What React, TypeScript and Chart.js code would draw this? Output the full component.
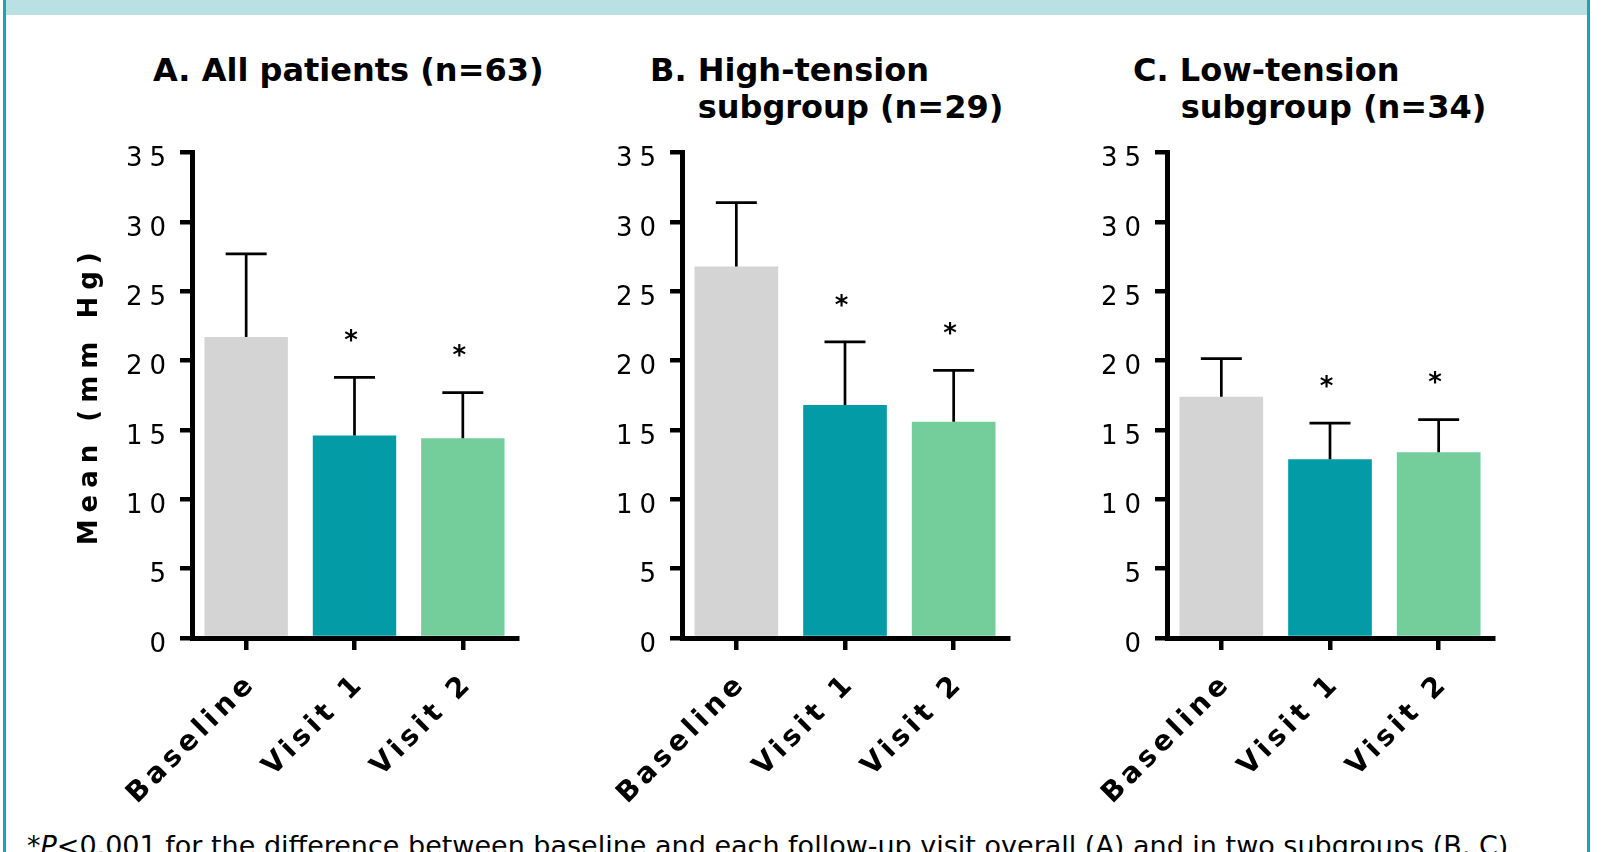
import React, { useEffect, useRef } from 'react';
import { Chart, registerables } from 'chart.js';

Chart.register(...registerables);

// ---- data ----
const categories = ['Baseline', 'Visit 1', 'Visit 2'];
const yMin = 0;
const yMax = 35;
const yStep = 5;
const allMeans = [21.7, 14.6, 14.4];
const allSD = [6.0, 4.2, 3.3];
const highMeans = [26.8, 16.8, 15.6];
const highSD = [4.6, 4.55, 3.7];
const lowMeans = [17.4, 12.9, 13.4];
const lowSD = [2.75, 2.6, 2.35];
const significant = [false, true, true];
const barColors = ['#d4d4d4', '#039ba6', '#73ce9b'];
const yAxisTitle = 'Mean (mm Hg)';
const titleA = ['A. All patients (n=63)'];
const titleB = ['B. High-tension', 'subgroup (n=29)'];
const titleC = ['C. Low-tension', 'subgroup (n=34)'];

const FONT = '"DejaVu Sans", Verdana, sans-serif';

const spacingPlugin = {
  id: 'letterSpacing',
  beforeDraw(chart: any) {
    chart.ctx.letterSpacing = '7px';
    const sx = chart.scales.x;
    if (sx && !sx.__wrapped) {
      const orig = sx.drawLabels;
      sx.drawLabels = function (ca: any) {
        const c = this.ctx;
        const prev = c.letterSpacing;
        c.letterSpacing = '4.5px';
        orig.call(this, ca);
        c.letterSpacing = prev;
      };
      sx.__wrapped = true;
    }
  },
};

const errorBarPlugin = {
  id: 'errorBars',
  afterDatasetsDraw(chart: any, _args: any, opts: any) {
    const ctx = chart.ctx;
    const meta = chart.getDatasetMeta(0);
    const ds = chart.data.datasets[0];
    const yScale = chart.scales.y;
    ctx.save();
    ctx.strokeStyle = '#000';
    ctx.fillStyle = '#000';
    ctx.lineWidth = 2.7;
    meta.data.forEach((bar: any, i: number) => {
      const v = ds.data[i] as number;
      const e = opts.errors[i] as number;
      const top = yScale.getPixelForValue(v + e);
      const x = bar.x;
      ctx.beginPath();
      ctx.moveTo(x, bar.y);
      ctx.lineTo(x, top);
      ctx.moveTo(x - 20.5, top);
      ctx.lineTo(x + 20.5, top);
      ctx.stroke();
      if (opts.sig[i]) {
        ctx.font = 'bold 26px ' + FONT;
        ctx.textAlign = 'center';
        ctx.textBaseline = 'alphabetic';
        ctx.fillText('*', x, top - 28.4);
      }
    });
    ctx.restore();
  },
};

type PanelProps = {
  means: number[];
  errors: number[];
  areaLeft: number;
  areaRight: number;
  showYTitle: boolean;
};

const Y_SCALE_W = 120;
const RIGHT_PAD = 40;
const CANVAS_TOP = 120;
const CANVAS_H = 700;

function Panel({ means, errors, areaLeft, areaRight, showYTitle }: PanelProps) {
  const ref = useRef<HTMLCanvasElement | null>(null);
  const canvasLeft = areaLeft - Y_SCALE_W;
  const canvasW = Y_SCALE_W + (areaRight - areaLeft) + RIGHT_PAD;

  useEffect(() => {
    if (!ref.current) return;
    const gridOpts = {
      display: true,
      drawOnChartArea: false,
      drawTicks: true,
      tickLength: 12,
      tickWidth: 4.5,
      lineWidth: 4.5,
      color: '#000',
      tickColor: '#000',
    };
    const borderOpts = { display: true, color: '#000', width: 5, z: 1 };
    const chart = new Chart(ref.current, {
      type: 'bar',
      data: {
        labels: categories,
        datasets: [
          {
            data: means,
            backgroundColor: barColors,
            borderWidth: 0,
            categoryPercentage: 1,
            barPercentage: 0.77,
          },
        ],
      },
      options: {
        animation: false,
        responsive: false,
        maintainAspectRatio: false,
        events: [],
        layout: { padding: { top: 152.7 - CANVAS_TOP, bottom: 10, left: 0, right: RIGHT_PAD } },
        plugins: {
          legend: { display: false },
          tooltip: { enabled: false },
          title: { display: false },
          errorBars: { errors, sig: significant },
        } as any,
        scales: {
          x: {
            offset: true,
            grid: { ...gridOpts, offset: false },
            border: borderOpts,
            ticks: {
              color: '#000',
              font: { family: FONT, size: 28, weight: 'bold' },
              minRotation: 45,
              maxRotation: 45,
              autoSkip: false,
              padding: 17,
              labelOffset: 6,
            },
            afterFit: (s: any) => {
              s.height = CANVAS_H - 10 - (638 - CANVAS_TOP);
            },
          } as any,
          y: {
            min: yMin,
            max: yMax,
            grid: gridOpts,
            border: borderOpts,
            ticks: {
              stepSize: yStep,
              color: '#000',
              font: { family: FONT, size: 26 },
              padding: 7,
              labelOffset: 7,
            },
            title: {
              display: showYTitle,
              text: yAxisTitle,
              color: '#000',
              font: { family: FONT, size: 26, weight: 'bold' },
              padding: { top: 2.4, bottom: 0 },
            },
            afterFit: (s: any) => {
              s.width = Y_SCALE_W;
            },
          } as any,
        },
      },
      plugins: [spacingPlugin, errorBarPlugin],
    });
    return () => chart.destroy();
  }, []);

  return (
    <canvas
      ref={ref}
      width={canvasW}
      height={CANVAS_H}
      style={{ position: 'absolute', left: canvasLeft, top: CANVAS_TOP, width: canvasW, height: CANVAS_H }}
    />
  );
}

function Title({ lines, left, top }: { lines: string[]; left: number; top: number }) {
  return (
    <div
      style={{
        position: 'absolute',
        left,
        top,
        fontFamily: FONT,
        fontWeight: 'bold',
        fontSize: 32,
        lineHeight: '36.5px',
        color: '#000',
        whiteSpace: 'nowrap',
      }}
    >
      {lines.map((l, i) => (
        <div key={i} style={{ marginLeft: i === 0 ? 0 : 47.7 }}>
          {l}
        </div>
      ))}
    </div>
  );
}

export default function App() {
  return (
    <div
      style={{
        position: 'absolute',
        left: 0,
        top: 0,
        width: 1601,
        height: 852,
        overflow: 'hidden',
        background: '#fff',
      }}
    >
      <div
        style={{
          position: 'absolute',
          left: 3,
          top: -10,
          width: 1587,
          height: 1000,
          boxSizing: 'border-box',
          border: '3px solid #1aa5b0',
        }}
      />
      <div style={{ position: 'absolute', left: 6, top: 0, width: 1581, height: 15, background: '#b9e0e3' }} />
      <Title lines={titleA} left={153} top={52} />
      <Title lines={titleB} left={650} top={52} />
      <Title lines={titleC} left={1133} top={52} />
      <Panel means={allMeans} errors={allSD} areaLeft={192} areaRight={517} showYTitle={true} />
      <Panel means={highMeans} errors={highSD} areaLeft={682} areaRight={1008} showYTitle={false} />
      <Panel means={lowMeans} errors={lowSD} areaLeft={1167} areaRight={1493} showYTitle={false} />
      <div
        style={{
          position: 'absolute',
          left: 27,
          top: 832,
          fontFamily: FONT,
          fontSize: 27,
          lineHeight: '27px',
          color: '#000',
          whiteSpace: 'nowrap',
        }}
      >
        *<i>P</i>&lt;0.001 for the difference between baseline and each follow-up visit overall (A) and in two subgroups (B, C)
      </div>
    </div>
  );
}
